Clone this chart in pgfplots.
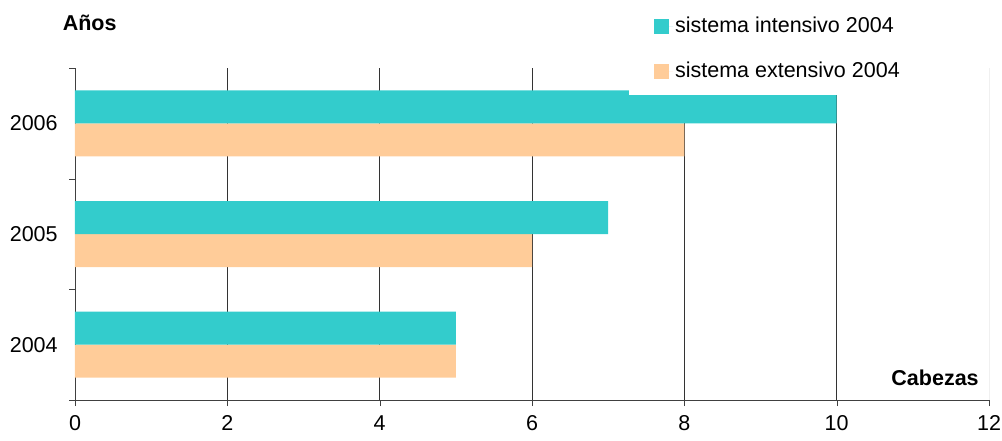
\documentclass[border=0pt]{standalone}
\usepackage{pgfplots}
\pgfplotsset{compat=1.18}
\usepackage{fontspec}
\setmainfont{Liberation Sans}
\definecolor{teal1}{HTML}{33CCCC}
\definecolor{peach}{HTML}{FFCC99}
\begin{document}
\fontsize{21.5}{25}\selectfont
\begin{tikzpicture}[x=1pt,y=1pt]
\path[use as bounding box] (0,0) rectangle (1002,440);
\begin{axis}[
  at={(75pt,40pt)}, anchor=south west,
  width=914pt, height=332pt, scale only axis,
  xbar, bar width=33pt,
  xmin=0, xmax=12, ymin=-0.5, ymax=2.5,
  axis x line*=bottom, axis y line*=left,
  axis line style={-, black!75},
  xtick={0,2,...,10},
  extra x ticks={12},
  extra x tick style={grid style={black!6}},
  xmajorgrids, grid style={black!80, line width=0.8pt},
  ytick={0,1,2}, yticklabels={2004,2005,2006},
  minor ytick={-0.5,0.5,1.5,2.5},
  major y tick style={draw=none},
  minor y tick style={black!75},
  tick align=outside, major tick length=6pt, minor tick length=6pt,
  x tick style={black!75},
  tick label style={font=\fontsize{21.5}{25}\selectfont},
  /pgf/number format/assume math mode=true,
  xticklabel style={yshift=-2pt},
  yticklabel style={xshift=-4pt},
  legend style={draw=none, fill=white, at={(axis description cs:0.606,0.919)}, anchor=south west,
    inner xsep=25pt, inner ysep=12pt, row sep=22pt,
    font=\fontsize{21.5}{25}\selectfont},
  legend cell align=left,
  legend image code/.code={\fill[#1] (0pt,-7.5pt) rectangle (15pt,7.5pt); \path (0pt,0pt) -- (19pt,0pt);},
  clip=false,
]
\addplot[draw=none, fill=peach, bar shift=-16.5pt, forget plot] coordinates {(5,0) (6,1) (8,2)};
\addplot[draw=none, fill=teal1, bar shift=16.5pt] coordinates {(5,0) (7,1) (10,2)};
\addlegendentry{sistema intensivo 2004}
\addlegendimage{draw=none, fill=peach}
\addlegendentry{sistema extensivo 2004}
\node[font=\bfseries\fontsize{21.5}{25}\selectfont] at (axis description cs:0.016,1.136) {Años};
\node[font=\bfseries\fontsize{21.5}{25}\selectfont] at (axis description cs:0.941,0.066) {Cabezas};
\end{axis}
\end{tikzpicture}
\end{document}
